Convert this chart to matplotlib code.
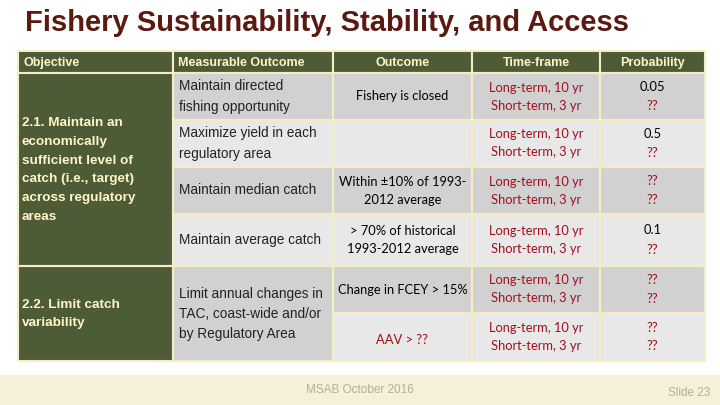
import matplotlib.pyplot as plt
from matplotlib.patches import Rectangle

headers = ["Objective", "Measurable Outcome", "Outcome", "Time-frame", "Probability"]
objectives = ["2.1. Maintain an\neconomically\nsufficient level of\ncatch (i.e., target)\nacross regulatory\nareas",
              "2.2. Limit catch\nvariability"]
measurable = ["Maintain directed\nfishing opportunity", "Maximize yield in each\nregulatory area",
              "Maintain median catch", "Maintain average catch",
              "Limit annual changes in\nTAC, coast-wide and/or\nby Regulatory Area"]
outcomes = ["Fishery is closed", "", "Within ±10% of 1993-\n2012 average",
            "> 70% of historical\n1993-2012 average", "Change in FCEY > 15%", "AAV > ??"]
timeframe = "Long-term, 10 yr\nShort-term, 3 yr"
prob_long = ["0.05", "0.5", "??", "0.1", "??", "??"]
prob_short = ["??", "??", "??", "??", "??", "??"]

W, H = 720, 405
fig = plt.figure(figsize=(W / 100, H / 100), dpi=100)
ax = fig.add_axes([0, 0, 1, 1])
ax.set_xlim(0, W)
ax.set_ylim(H, 0)
ax.axis("off")

olive = "#4d5b36"
dark = "#d1d1d1"
light = "#e8e8e8"
border = "#f4efc2"
red = "#a0101a"
narrow = ["Lato", "DejaVu Sans"]
arial = ["Liberation Sans", "DejaVu Sans"]

cols = [18, 173, 333, 472, 600, 705]
rows = [51, 73, 120, 167, 214, 266, 313, 361]


def box(x0, x1, y0, y1, fc):
    ax.add_patch(Rectangle((x0, y0), x1 - x0, y1 - y0, fc=fc, ec=border, lw=1.5))


ax.add_patch(Rectangle((0, 375), W, 30, fc="#f6efd9", ec="none"))
ax.text(25, 23, "Fishery Sustainability, Stability, and Access", fontsize=21,
        fontweight="bold", color="#5a1a10", va="center", family=arial)

# header
for i, h in enumerate(headers):
    box(cols[i], cols[i + 1], rows[0], rows[1], olive)
    cx = cols[i] + 5 if i < 2 else (cols[i] + cols[i + 1]) / 2
    ax.text(cx, (rows[0] + rows[1]) / 2 + 1, h, color="#fff6c8", fontsize=9, fontweight="bold",
            ha="left" if i < 2 else "center", va="center", family=arial)

# objectives
box(cols[0], cols[1], rows[1], rows[5], olive)
box(cols[0], cols[1], rows[5], rows[7], olive)
ax.text(cols[0] + 4, 170, objectives[0], color="#fff6c8", fontsize=9.7, fontweight="bold",
        va="center", linespacing=1.75, family=arial)
ax.text(cols[0] + 4, 314, objectives[1], color="#fff6c8", fontsize=9.7, fontweight="bold",
        va="center", linespacing=1.75, family=arial)

fills = [dark, light, dark, light, dark, light]
for r in range(6):
    y0, y1 = rows[r + 1], rows[r + 2]
    cy = (y0 + y1) / 2
    if r < 4:
        box(cols[1], cols[2], y0, y1, fills[r])
        ax.text(cols[1] + 6, cy, measurable[r], fontsize=9.8, color="#222222", va="center",
                linespacing=1.55, family=arial)
    for c in (2, 3, 4):
        box(cols[c], cols[c + 1], y0, y1, fills[r])
    ax.text((cols[2] + cols[3]) / 2, cy if r < 5 else cy + 3, outcomes[r], fontsize=9.3,
            color=red if r == 5 else "black", ha="center", va="center", linespacing=1.6, family=narrow)
    ax.text((cols[3] + cols[4]) / 2, cy, timeframe, fontsize=9.3, color=red, ha="center",
            va="center", linespacing=1.6, family=narrow)
    ax.text((cols[4] + cols[5]) / 2, cy - 9.5, prob_long[r], fontsize=9.3,
            color=red if prob_long[r] == "??" else "black", ha="center", va="center", family=narrow)
    ax.text((cols[4] + cols[5]) / 2, cy + 9.5, prob_short[r], fontsize=9.3, color=red,
            ha="center", va="center", family=narrow)

box(cols[1], cols[2], rows[5], rows[7], dark)
ax.text(cols[1] + 6, 314, measurable[4], fontsize=9.8, color="#222222", va="center",
        linespacing=1.55, family=arial)

ax.text(360, 390, "MSAB October 2016", fontsize=8.5, color="#b8ad9a", ha="center", va="center",
        family=arial)
ax.text(710, 393, "Slide 23", fontsize=8.5, color="#b8ad9a", ha="right", va="center", family=arial)

fig.savefig("out.png", dpi=100)
